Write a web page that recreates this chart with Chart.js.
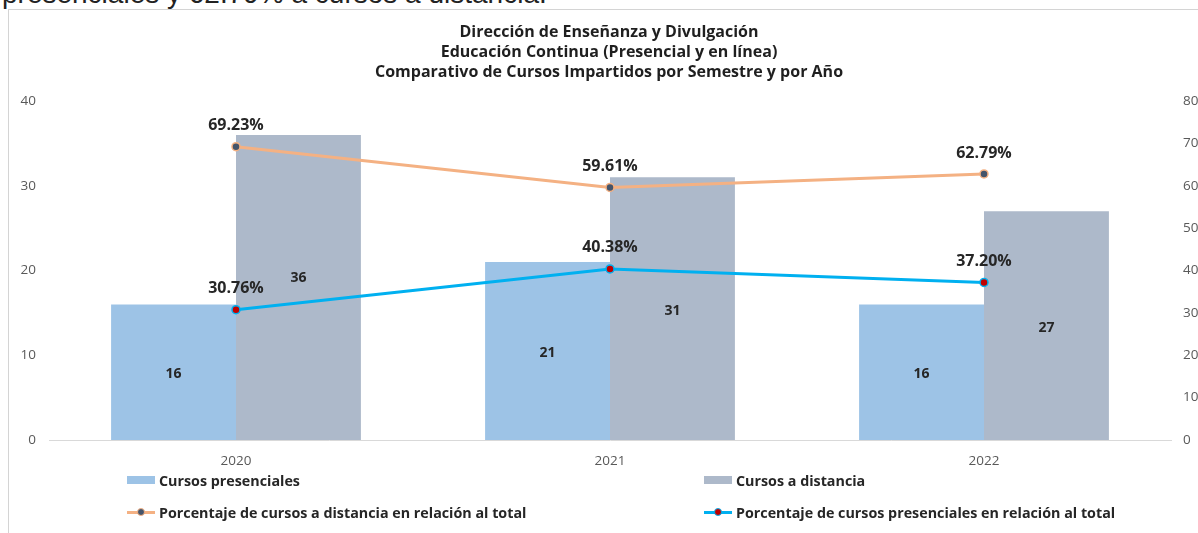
<!DOCTYPE html>
<html>
<head>
<meta charset="utf-8">
<script src="https://cdn.jsdelivr.net/npm/chart.js@4.4.1/dist/chart.umd.min.js"></script>
<style>
  html, body { margin:0; padding:0; background:#fff; overflow:hidden; width:1198px; height:533px; }
  #toptext { position:absolute; left:2px; top:-20px; font-family:"Liberation Sans", Arial, sans-serif; font-size:28px; line-height:28px; color:#222; white-space:nowrap; }
  #frame { position:absolute; left:8px; top:9px; width:1300px; height:600px; border-left:1px solid #d4d4d4; border-top:1px solid #d4d4d4; }
  #wrap { position:absolute; left:9px; top:10px; width:1200px; height:523px; }
  .leg { position:absolute; display:flex; align-items:center; font-family:"Open Sans", sans-serif; font-weight:700; font-size:14.3px; color:#262626; white-space:nowrap; }
  .sw { position:relative; width:28px; height:12px; margin-right:4px; }
  .sw .box { position:absolute; left:0; top:2px; width:28px; height:8px; }
  .sw .ln { position:absolute; left:0; top:5px; width:28px; height:3px; }
  .sw .dot { position:absolute; left:10px; top:2px; width:6px; height:6px; border-radius:50%; border:1.5px solid; }
</style>
</head>
<body>
<div id="toptext">presenciales y 62.79% a cursos a distancia.</div>
<div id="frame"></div>
<div id="wrap"><canvas id="c"></canvas></div>
<div id="legend"></div>
<script>
const categories = ['2020', '2021', '2022'];
const cursosPresenciales = [16, 21, 16];
const cursosDistancia = [36, 31, 27];
const pctDistancia = [69.23, 59.61, 62.79];
const pctPresenciales = [30.76, 40.38, 37.20];
const pctLabels = { dist: ['69.23%', '59.61%', '62.79%'], pres: ['30.76%', '40.38%', '37.20%'] };
const titleLines = ['Dirección de Enseñanza y Divulgación', 'Educación Continua (Presencial y en línea)', 'Comparativo de Cursos Impartidos por Semestre y por Año'];
const seriesNames = ['Cursos presenciales', 'Cursos a distancia', 'Porcentaje de cursos a distancia en relación al total', 'Porcentaje de cursos presenciales en relación al total'];

const FONT = '"Open Sans", sans-serif';

const labelPlugin = {
  id: 'valueLabels',
  afterDatasetsDraw(chart, args, opts) {
    const ctx = chart.ctx;
    ctx.save();
    ctx.fillStyle = '#262626';
    ctx.textAlign = 'center';
    ctx.textBaseline = 'middle';
    chart.data.datasets.forEach((ds, di) => {
      const meta = chart.getDatasetMeta(di);
      meta.data.forEach((el, i) => {
        if (ds.type === 'bar') {
          ctx.font = 'bold 14px ' + FONT;
          const shift = (opts.shifts[di] && opts.shifts[di][i]) || 2;
          ctx.fillText(String(ds.data[i]), el.x, (el.y + el.base) / 2 + shift);
        } else {
          ctx.font = 'bold 16px ' + FONT;
          ctx.fillText(ds.pctText[i], el.x, el.y - 21);
        }
      });
    });
    ctx.restore();
  }
};

const chart = new Chart(document.getElementById('c'), {
  data: {
    labels: categories,
    datasets: [
      { type: 'line', label: seriesNames[2], data: pctDistancia, pctText: pctLabels.dist, yAxisID: 'y2', order: 0,
        borderColor: '#F4B183', borderWidth: 3, pointRadius: 4, pointBorderWidth: 1.5,
        pointBackgroundColor: '#44546A', pointBorderColor: '#F4B183', tension: 0 },
      { type: 'line', label: seriesNames[3], data: pctPresenciales, pctText: pctLabels.pres, yAxisID: 'y2', order: 0,
        borderColor: '#00B0F0', borderWidth: 3, pointRadius: 4, pointBorderWidth: 1.5,
        pointBackgroundColor: '#C00000', pointBorderColor: '#00B0F0', tension: 0 },
      { type: 'bar', label: seriesNames[0], data: cursosPresenciales, yAxisID: 'y', order: 1,
        backgroundColor: '#9DC3E6', categoryPercentage: 0.668, barPercentage: 1 },
      { type: 'bar', label: seriesNames[1], data: cursosDistancia, yAxisID: 'y', order: 1,
        backgroundColor: '#ADB9CA', categoryPercentage: 0.668, barPercentage: 1 }
    ]
  },
  options: {
    responsive: true,
    maintainAspectRatio: false,
    animation: false,
    layout: { padding: 0 },
    plugins: {
      legend: { display: false },
      tooltip: { enabled: false },
      valueLabels: { shifts: { 3: [-9] } },
      title: {
        display: true,
        text: titleLines,
        color: '#1f1f1f',
        font: { family: FONT, size: 16, weight: 'bold', lineHeight: 1.23 },
        padding: { top: 13, bottom: 19 }
      }
    },
    scales: {
      x: {
        grid: { display: false },
        border: { display: true, color: '#d9d9d9', width: 1 },
        ticks: { color: '#595959', font: { family: FONT, size: 13.5 }, padding: 5 },
        afterFit(s) { s.height = 93; }
      },
      y: {
        position: 'left', min: 0, max: 40,
        ticks: { stepSize: 10, color: '#595959', font: { family: FONT, size: 13.5 }, padding: 13 },
        grid: { display: false, drawTicks: false },
        border: { display: false },
        afterFit(s) { s.width = 40; }
      },
      y2: {
        position: 'right', min: 0, max: 80,
        ticks: { stepSize: 10, color: '#595959', font: { family: FONT, size: 13.5 }, padding: 12 },
        grid: { display: false, drawTicks: false },
        border: { display: false },
        afterFit(s) { s.width = 38; }
      }
    }
  },
  plugins: [labelPlugin]
});

// HTML legend built from datasets
const legendPos = [
  { ds: 2, left: 127, top: 480 },
  { ds: 3, left: 704, top: 480 },
  { ds: 0, left: 127, top: 512 },
  { ds: 1, left: 704, top: 512 }
];
const legend = document.getElementById('legend');
legendPos.forEach(p => {
  const ds = chart.data.datasets[p.ds];
  const item = document.createElement('div');
  item.className = 'leg';
  item.style.left = p.left + 'px';
  item.style.top = (p.top - 10) + 'px';
  item.style.height = '20px';
  const sw = document.createElement('div');
  sw.className = 'sw';
  if (ds.type === 'bar') {
    const b = document.createElement('div'); b.className = 'box'; b.style.background = ds.backgroundColor; sw.appendChild(b);
  } else {
    const l = document.createElement('div'); l.className = 'ln'; l.style.background = ds.borderColor; sw.appendChild(l);
    const d = document.createElement('div'); d.className = 'dot'; d.style.background = ds.pointBackgroundColor; d.style.borderColor = ds.pointBorderColor; sw.appendChild(d);
  }
  item.appendChild(sw);
  const t = document.createElement('span'); t.textContent = ds.label; item.appendChild(t);
  legend.appendChild(item);
});
</script>
</body>
</html>
